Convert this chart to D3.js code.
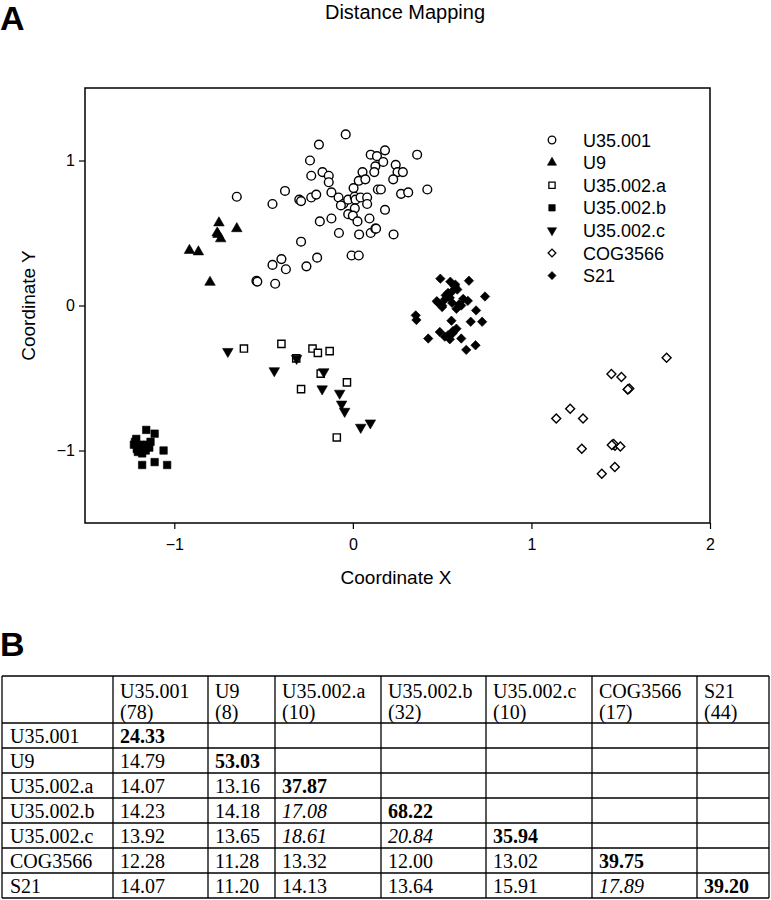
<!DOCTYPE html>
<html>
<head>
<meta charset="utf-8">
<script src="https://cdn.jsdelivr.net/npm/d3@7"></script>
<style>
  body { margin: 0; background: #fff; }
  svg { display: block; }
</style>
</head>
<body>
<div id="chart"></div>
<script>
// ---- data ----
const groups = ["U35.001", "U9", "U35.002.a", "U35.002.b", "U35.002.c", "COG3566", "S21"];
const counts = [78, 8, 10, 32, 10, 17, 44];
const xTicks = [-1, 0, 1, 2];
const yTicks = [-1, 0, 1];

const u35_001 = [
  [-0.04, 1.18], [-0.19, 1.11], [-0.24, 1.00], [0.10, 1.04], [0.135, 1.03], [0.18, 1.07], [0.36, 1.04],
  [0.17, 0.99], [0.24, 0.97], [0.126, 0.96], [0.12, 0.92], [0.054, 0.92], [0.25, 0.92], [0.28, 0.92],
  [-0.17, 0.92], [-0.135, 0.895], [-0.233, 0.895], [-0.135, 0.85], [0.033, 0.86], [0.07, 0.87],
  [0.226, 0.87], [0.004, 0.81], [0.14, 0.80], [0.157, 0.80], [0.27, 0.77], [0.31, 0.78], [0.417, 0.80],
  [-0.38, 0.79], [-0.65, 0.75], [-0.45, 0.70], [-0.30, 0.73], [-0.29, 0.72], [-0.233, 0.745],
  [-0.205, 0.765], [-0.12, 0.78], [-0.08, 0.745], [-0.054, 0.70], [-0.067, 0.69], [-0.026, 0.73],
  [0.01, 0.75], [0.015, 0.73], [0.043, 0.745], [0.08, 0.745], [0.08, 0.70], [0.011, 0.67],
  [-0.026, 0.63], [0.0, 0.62], [0.026, 0.58], [0.093, 0.60], [0.18, 0.66], [-0.12, 0.60],
  [-0.185, 0.58], [-0.078, 0.50], [0.035, 0.49], [0.10, 0.50], [0.126, 0.53], [0.13, 0.53],
  [0.228, 0.49], [-0.29, 0.44], [-0.40, 0.32], [-0.45, 0.28], [-0.375, 0.25], [-0.26, 0.27],
  [-0.20, 0.33], [-0.007, 0.345], [0.033, 0.345], [-0.54, 0.17], [-0.535, 0.165], [-0.435, 0.15]
];
const u9 = [
  [-0.75, 0.57], [-0.755, 0.49], [-0.74, 0.46], [-0.76, 0.50], [-0.65, 0.53],
  [-0.915, 0.38], [-0.865, 0.37], [-0.80, 0.16]
];
const u35_002a = [
  [-0.61, -0.297], [-0.40, -0.265], [-0.317, -0.365], [-0.226, -0.297], [-0.196, -0.327],
  [-0.13, -0.315], [-0.18, -0.47], [-0.033, -0.53], [-0.29, -0.577], [-0.09, -0.91]
];
const u35_002b = [
  [-1.157, -0.858], [-1.11, -0.884], [-1.213, -0.92], [-1.133, -0.94], [-1.226, -0.96],
  [-1.198, -0.986], [-1.157, -0.975], [-1.204, -1.01], [-1.06, -1.0], [-1.18, -1.10],
  [-1.11, -1.08], [-1.04, -1.10], [-1.22, -0.94], [-1.19, -0.96], [-1.17, -0.99],
  [-1.15, -0.96], [-1.21, -0.99], [-1.18, -1.02], [-1.14, -0.98], [-1.16, -1.0]
];
const u35_002c = [
  [-0.70, -0.317], [-0.44, -0.45], [-0.315, -0.365], [-0.163, -0.457], [-0.172, -0.575],
  [-0.074, -0.605], [-0.063, -0.68], [-0.046, -0.73], [0.044, -0.84], [0.098, -0.81]
];
const cog3566 = [
  [1.757, -0.36], [1.448, -0.473], [1.504, -0.493], [1.539, -0.58], [1.548, -0.573],
  [1.217, -0.712], [1.139, -0.779], [1.289, -0.779], [1.282, -0.988], [1.456, -0.959],
  [1.468, -0.968], [1.498, -0.973], [1.467, -1.114], [1.394, -1.16], [1.46, -0.955],
  [1.54, -0.578], [1.45, -0.962]
];
const s21 = [
  [0.49, 0.185], [0.546, 0.164], [0.65, 0.171], [0.57, 0.132], [0.533, 0.087], [0.557, 0.098],
  [0.585, 0.11], [0.543, 0.053], [0.47, 0.03], [0.515, 0.041], [0.618, 0.046], [0.644, 0.032],
  [0.74, 0.062], [0.50, -0.011], [0.58, -0.023], [0.607, 0.0], [0.69, -0.034], [0.352, -0.068],
  [0.356, -0.10], [0.552, -0.105], [0.66, -0.112], [0.724, -0.112], [0.487, -0.183],
  [0.422, -0.228], [0.533, -0.205], [0.561, -0.176], [0.58, -0.16], [0.543, -0.233],
  [0.607, -0.228], [0.515, -0.215], [0.635, -0.306], [0.687, -0.274], [0.474, 0.023],
  [0.556, 0.018], [0.53, 0.064], [0.574, 0.144], [0.594, 0.007], [0.52, 0.07], [0.56, -0.19],
  [0.50, 0.0]
];

// distance matrix (lower triangle), diagonal is bold
const distRows = [
  [24.33],
  [14.79, 53.03],
  [14.07, 13.16, 37.87],
  [14.23, 14.18, 17.08, 68.22],
  [13.92, 13.65, 18.61, 20.84, 35.94],
  [12.28, 11.28, 13.32, 12.00, 13.02, 39.75],
  [14.07, 11.20, 14.13, 13.64, 15.91, 17.89, 39.20]
];
const italicCells = [[3, 2], [4, 2], [4, 3], [6, 5]];

// ---- chart ----
const W = 771, H = 900;
const svg = d3.select('#chart').append('svg')
  .attr('width', W).attr('height', H)
  .style('font-family', '"Liberation Sans", Arial, sans-serif');

const x = d3.scaleLinear().domain([-1.5, 2]).range([85, 710]);
const y = d3.scaleLinear().domain([-1.5, 1.5]).range([523, 88]);

svg.append('text').attr('x', 0).attr('y', 30)
  .attr('font-size', 34).attr('font-weight', 'bold').text('A');
svg.append('text').attr('x', 405).attr('y', 19)
  .attr('text-anchor', 'middle').attr('font-size', 20).text('Distance Mapping');

svg.append('rect')
  .attr('x', x(-1.5)).attr('y', y(1.5))
  .attr('width', x(2) - x(-1.5)).attr('height', y(-1.5) - y(1.5))
  .attr('fill', 'none').attr('stroke', '#000').attr('stroke-width', 1.5);

const xAxis = svg.append('g').attr('transform', `translate(0,${y(-1.5)})`)
  .call(d3.axisBottom(x).tickValues(xTicks).tickSize(6).tickSizeOuter(0).tickFormat(d3.format('d')));
const yAxis = svg.append('g').attr('transform', `translate(${x(-1.5)},0)`)
  .call(d3.axisLeft(y).tickValues(yTicks).tickSize(6).tickSizeOuter(0).tickFormat(d3.format('d')));
[xAxis, yAxis].forEach(a => {
  a.select('.domain').remove();
  a.selectAll('line').attr('stroke', '#000').attr('stroke-width', 1.2);
  a.selectAll('text').attr('font-size', 16).attr('fill', '#000')
    .style('font-family', '"Liberation Sans", Arial, sans-serif');
});
xAxis.selectAll('text').attr('dy', '1.1em');
yAxis.selectAll('text').attr('x', -10);

svg.append('text').attr('x', 396).attr('y', 584)
  .attr('text-anchor', 'middle').attr('font-size', 19).text('Coordinate X');
svg.append('text').attr('transform', `translate(35,${y(0)}) rotate(-90)`)
  .attr('text-anchor', 'middle').attr('font-size', 19).text('Coordinate Y');

// marker styles for each group
const styles = [
  {type: d3.symbolCircle, size: 60, rot: 0, filled: false},
  {type: d3.symbolTriangle, size: 48, rot: 0, filled: true},
  {type: d3.symbolSquare, size: 52, rot: 0, filled: false},
  {type: d3.symbolSquare, size: 56, rot: 0, filled: true},
  {type: d3.symbolTriangle, size: 48, rot: 180, filled: true},
  {type: d3.symbolSquare, size: 40, rot: 45, filled: false},
  {type: d3.symbolSquare, size: 44, rot: 45, filled: true}
];
const series = [u35_001, u9, u35_002a, u35_002b, u35_002c, cog3566, s21];

function drawMarks(g, pts, st, scale) {
  g.selectAll('path').data(pts).join('path')
    .attr('d', d3.symbol().type(st.type).size(st.size * scale))
    .attr('transform', d => `translate(${x(d[0])},${y(d[1])}) rotate(${st.rot})`)
    .attr('fill', st.filled ? '#000' : '#fff')
    .attr('stroke', '#000')
    .attr('stroke-width', st.filled ? 0.6 : 1.4);
}

series.forEach((pts, i) => {
  drawMarks(svg.append('g'), pts, styles[i], 1);
});

// legend
const legend = svg.append('g');
groups.forEach((name, i) => {
  const ly = 140 + i * 22.6;
  const st = styles[i];
  legend.append('path')
    .attr('d', d3.symbol().type(st.type).size(st.size * 0.75))
    .attr('transform', `translate(552,${ly}) rotate(${st.rot})`)
    .attr('fill', st.filled ? '#000' : '#fff')
    .attr('stroke', '#000').attr('stroke-width', st.filled ? 0.6 : 1.3);
  legend.append('text').attr('x', 583).attr('y', ly + 6.5)
    .attr('font-size', 18).text(name);
});

// ---- table B ----
svg.append('text').attr('x', 0).attr('y', 656)
  .attr('font-size', 34).attr('font-weight', 'bold').text('B');

const colX = [2, 113, 208, 275, 381, 486, 592, 697, 769];
const rowY = [676, 723, 748, 773, 798, 823, 848, 873, 898];
const tbl = svg.append('g').style('font-family', '"Liberation Serif", "Times New Roman", serif');

tbl.selectAll('line.h').data(rowY).join('line')
  .attr('x1', colX[0]).attr('x2', colX[colX.length - 1])
  .attr('y1', d => d).attr('y2', d => d)
  .attr('stroke', '#000').attr('stroke-width', 1.3);
tbl.selectAll('line.v').data(colX).join('line')
  .attr('y1', rowY[0]).attr('y2', rowY[rowY.length - 1])
  .attr('x1', d => d).attr('x2', d => d)
  .attr('stroke', '#000').attr('stroke-width', 1.3);

groups.forEach((name, j) => {
  const tx = colX[j + 1] + 7;
  tbl.append('text').attr('x', tx).attr('y', rowY[0] + 22).attr('font-size', 20).text(name);
  tbl.append('text').attr('x', tx).attr('y', rowY[0] + 43).attr('font-size', 20).text(`(${counts[j]})`);
});

distRows.forEach((row, i) => {
  const by = rowY[i + 1] + 20;
  tbl.append('text').attr('x', colX[0] + 8).attr('y', by).attr('font-size', 20).text(groups[i]);
  row.forEach((v, j) => {
    const it = italicCells.some(c => c[0] === i && c[1] === j);
    tbl.append('text').attr('x', colX[j + 1] + 7).attr('y', by)
      .attr('font-size', 20)
      .attr('font-weight', i === j ? 'bold' : 'normal')
      .attr('font-style', it ? 'italic' : 'normal')
      .text(v.toFixed(2));
  });
});
</script>
</body>
</html>
